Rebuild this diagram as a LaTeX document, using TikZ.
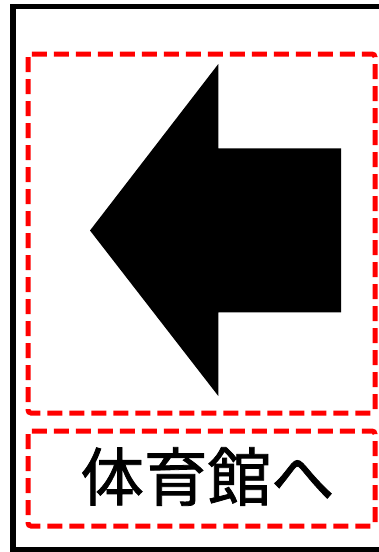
\documentclass[tikz,border=0pt]{standalone}
\usepackage{fontspec}
\newfontfamily\cjk[FakeBold=1.2]{Noto Sans CJK JP}
\begin{document}
\begin{tikzpicture}[x=1pt,y=-1pt,
  redbox/.style={draw=red,line width=5pt,dash pattern=on 15pt off 7pt,rounded corners=3pt},
  frame/.style={draw=black,line width=5.5pt}]
\useasboundingbox (0,0) rectangle (379,552);
\fill[white] (0,0) rectangle (379,552);
\draw[frame] (13,6.5) rectangle (386,549.5);
\draw[redbox] (28,54) rectangle (375,413);
\draw[redbox] (28,431) rectangle (375,526);
\coordinate (tip) at (90,230.5);
\coordinate (ht) at (218.3,64);
\coordinate (st) at (218.3,148.3);
\coordinate (sr1) at (341,148.3);
\coordinate (sr2) at (341,312.3);
\coordinate (sb) at (218.3,312.3);
\coordinate (hb) at (218.3,396);
\fill[black] (tip) -- (ht) -- (st) -- (sr1) -- (sr2) -- (sb) -- (hb) -- cycle;
\node[inner sep=0pt] (label) at (207.5,476.5) {\cjk\fontsize{63.5pt}{63.5pt}\selectfont 体育館へ};
\end{tikzpicture}
\end{document}
